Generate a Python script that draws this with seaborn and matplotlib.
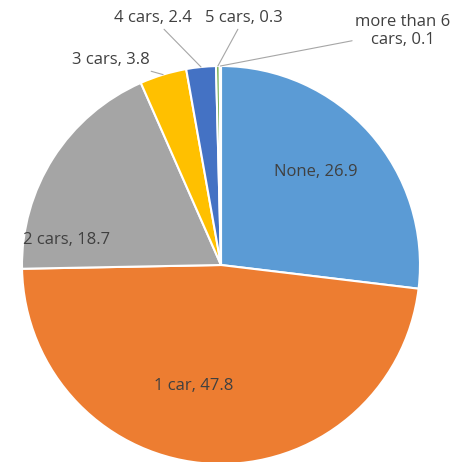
import numpy as np
import matplotlib
matplotlib.use("Agg")
import matplotlib.pyplot as plt
import seaborn as sns

# datos
labels = ["None", "1 car", "2 cars", "3 cars", "4 cars", "5 cars", "more than 6\ncars"]
values = [26.9, 47.8, 18.7, 3.8, 2.4, 0.3, 0.1]
colors = ["#5B9BD5", "#ED7D31", "#A5A5A5", "#FFC000", "#4472C4", "#70AD47", "#255E91"]

sns.set_theme(style="white")
plt.rcParams['font.family'] = ['Open Sans', 'DejaVu Sans']

W, H = 467, 462
fig = plt.figure(figsize=(W / 100, H / 100), dpi=100)

# centro del pastel y radio en pixeles
cx, cy, r = 221, 265, 199
ax = fig.add_axes([(cx - r) / W, (H - cy - r) / H, 2 * r / W, 2 * r / H])

wedges, _ = ax.pie(values, colors=sns.color_palette(colors), startangle=90, counterclock=False,
                   radius=1, wedgeprops=dict(edgecolor="white", linewidth=1.5))
ax.set_xlim(-1, 1)
ax.set_ylim(-1, 1)
ax.axis("off")


def px(x, y):
    # pixel -> coordenadas de datos
    return ((x - cx) / r, (cy - y) / r)


def edge(w, frac=1.0):
    ang = np.deg2rad((w.theta1 + w.theta2) / 2)
    return (frac * np.cos(ang), frac * np.sin(ang))


txt = dict(color="#404040", fontsize=12, ha="center", va="center")
line = dict(arrowstyle="-", color="#A6A6A6", lw=0.8, shrinkA=0, shrinkB=0)

text_pos = [(316, 172), (194, 386), (67, 240), (111, 60), (153, 18), (244, 18), (403, 31)]
names = [f"{l}, {v}" for l, v in zip(labels, values)]

for i, (name, pos) in enumerate(zip(names, text_pos)):
    if i < 3:
        ax.text(*px(*pos), name, **txt)

# etiquetas externas con lineas guia
for i in range(3, 7):
    ax.annotate(names[i], xy=edge(wedges[i], 1.0), xytext=px(*text_pos[i]),
                arrowprops=line, annotation_clip=False, **txt)

plt.savefig("out.png", dpi=100)
